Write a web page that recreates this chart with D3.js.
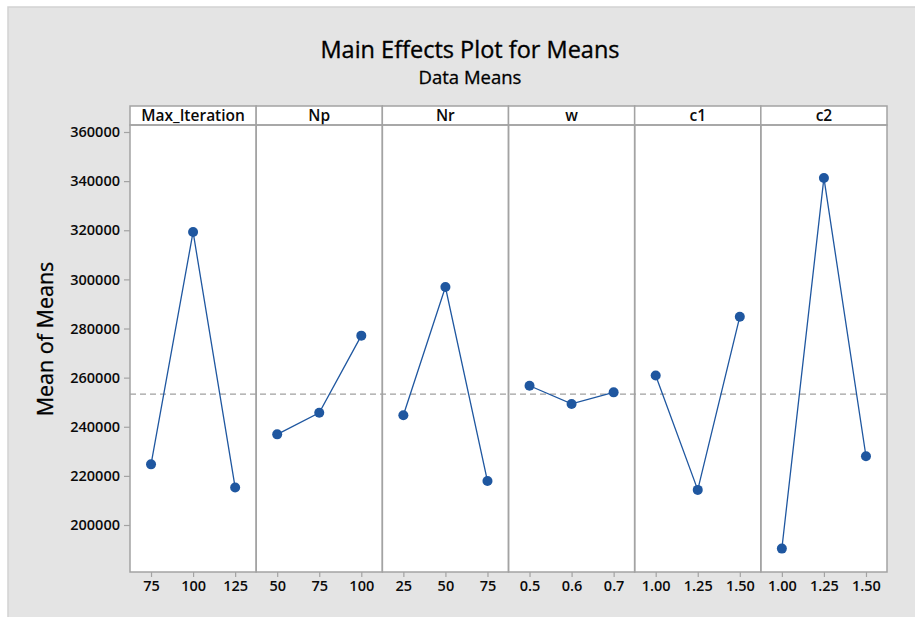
<!DOCTYPE html>
<html>
<head>
<meta charset="utf-8">
<script src="https://cdn.jsdelivr.net/npm/d3@7"></script>
<style>
  html, body { margin: 0; padding: 0; background: #ffffff; }
  svg { display: block; }
  text { font-family: "Open Sans", "Noto Sans", sans-serif; }
</style>
</head>
<body>
<div id="chart"></div>
<script>
// Factors and their levels
const factors = ["Max_Iteration", "Np", "Nr", "w", "c1", "c2"];
const levels = [
  ["75", "100", "125"],
  ["50", "75", "100"],
  ["25", "50", "75"],
  ["0.5", "0.6", "0.7"],
  ["1.00", "1.25", "1.50"],
  ["1.00", "1.25", "1.50"]
];
// Mean of means at each level
const means = [
  [224700, 319300, 215300],
  [236900, 245700, 277100],
  [244700, 296900, 217900],
  [256700, 249300, 254000],
  [260900, 214300, 284800],
  [190400, 341300, 228000]
];
const grandMean = 253300;
const yTicks = [200000, 220000, 240000, 260000, 280000, 300000, 320000, 340000, 360000];

const W = 915, H = 617;
const plot = { left: 130, right: 887, top: 125, bottom: 572, stripTop: 106 };
const frameColor = "#a3a3a3";
const markColor = "#1f57a0";
const inkColor = "#0a0a0a";

const svg = d3.select("#chart").append("svg")
  .attr("width", W).attr("height", H);

// Background frame (open to the right and bottom edges)
svg.append("rect").attr("x", 8).attr("y", 7).attr("width", W + 10).attr("height", H + 10)
  .attr("fill", "#e4e4e4").attr("stroke", "#d2d2d2").attr("stroke-width", 1.5);

// Titles
svg.append("text").attr("x", 470).attr("y", 58).attr("text-anchor", "middle")
  .attr("font-size", 23.5).attr("fill", "#000")
  .style("paint-order", "stroke").attr("stroke", "#000").attr("stroke-width", 0.35)
  .text("Main Effects Plot for Means");
svg.append("text").attr("x", 470).attr("y", 84).attr("text-anchor", "middle")
  .attr("font-size", 18.5).attr("fill", "#000")
  .attr("stroke", "#000").attr("stroke-width", 0.3)
  .text("Data Means");

// Scales
const y = d3.scaleLinear().domain([180870, 362850]).range([plot.bottom, plot.top]);
const panel = d3.scaleBand().domain(factors).range([plot.left, plot.right]).paddingInner(0).paddingOuter(0);

// Plot background
svg.append("rect").attr("x", plot.left).attr("y", plot.top)
  .attr("width", plot.right - plot.left).attr("height", plot.bottom - plot.top)
  .attr("fill", "#fff");

// Y axis
const yAxis = svg.append("g").attr("transform", `translate(${plot.left},0)`)
  .call(d3.axisLeft(y).tickValues(yTicks).tickFormat(d3.format("d")).tickSize(6).tickPadding(4));
yAxis.select(".domain").remove();
yAxis.selectAll(".tick line").attr("stroke", frameColor).attr("stroke-width", 1.2);
yAxis.selectAll(".tick text").attr("font-size", 14.5).attr("font-weight", 600).attr("fill", inkColor)
  .style("font-family", "'Open Sans', sans-serif");

svg.append("text")
  .attr("transform", `translate(53,339) rotate(-90)`)
  .attr("text-anchor", "middle").attr("font-size", 21.5).attr("fill", "#000")
  .attr("stroke", "#000").attr("stroke-width", 0.3)
  .text("Mean of Means");

// Grand mean reference line
svg.append("line").attr("x1", plot.left).attr("x2", plot.right)
  .attr("y1", y(grandMean)).attr("y2", y(grandMean))
  .attr("stroke", "#a0a0a0").attr("stroke-width", 1.3).attr("stroke-dasharray", "6,4");

// Panels
factors.forEach((f, i) => {
  const x0 = panel(f), bw = panel.bandwidth();
  const x = d3.scalePoint().domain(levels[i]).range([x0, x0 + bw]).padding(0.5);
  const g = svg.append("g");

  // Strip header
  g.append("rect").attr("x", x0).attr("y", plot.stripTop).attr("width", bw)
    .attr("height", plot.top - plot.stripTop).attr("fill", "#fff")
    .attr("stroke", frameColor).attr("stroke-width", 1.5);
  g.append("text").attr("x", x0 + bw / 2).attr("y", plot.top - 4)
    .attr("text-anchor", "middle").attr("font-size", 15.5).attr("font-weight", 600)
    .attr("fill", inkColor).text(f);

  // Panel border
  g.append("rect").attr("x", x0).attr("y", plot.top).attr("width", bw)
    .attr("height", plot.bottom - plot.top).attr("fill", "none")
    .attr("stroke", frameColor).attr("stroke-width", 1.5);

  // X axis
  const xa = g.append("g").attr("transform", `translate(0,${plot.bottom})`)
    .call(d3.axisBottom(x).tickSize(5).tickPadding(4));
  xa.select(".domain").remove();
  xa.selectAll(".tick line").attr("stroke", frameColor).attr("stroke-width", 1.2);
  xa.selectAll(".tick text").attr("font-size", 14.5).attr("font-weight", 600).attr("fill", inkColor)
    .style("font-family", "'Open Sans', sans-serif");

  const pts = levels[i].map((l, j) => ({ l, v: means[i][j] }));
  g.append("path").datum(pts)
    .attr("d", d3.line().x(d => x(d.l)).y(d => y(d.v)))
    .attr("fill", "none").attr("stroke", markColor).attr("stroke-width", 1.3);
  g.selectAll("circle").data(pts).join("circle")
    .attr("cx", d => x(d.l)).attr("cy", d => y(d.v)).attr("r", 5)
    .attr("fill", markColor);
});
</script>
</body>
</html>
